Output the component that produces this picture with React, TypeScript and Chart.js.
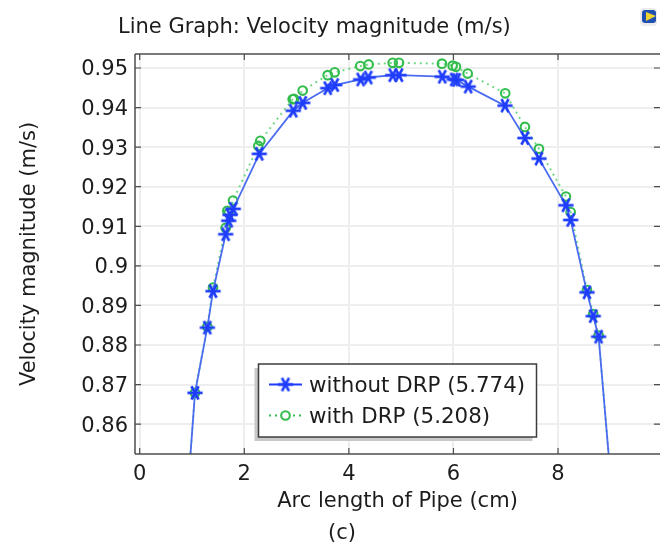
import React, { useEffect, useRef } from "react";
import { Chart, registerables } from "chart.js";

Chart.register(...registerables);

const titleText = "Line Graph: Velocity magnitude (m/s)";
const captionText = "(c)";
const xTitle = "Arc length of Pipe (cm)";
const yTitle = "Velocity magnitude (m/s)";
const xTicks = [0, 2, 4, 6, 8];
const yTicks = [0.86, 0.87, 0.88, 0.89, 0.9, 0.91, 0.92, 0.93, 0.94, 0.95];

const labelWithout = "without DRP (5.774)";
const xWithout = [0.93, 1.057, 1.293, 1.402, 1.644, 1.702, 1.727, 1.79, 2.287, 2.937, 3.117, 3.595, 3.729, 4.226, 4.371, 4.838, 4.958, 5.786, 6.015, 6.061, 6.283, 6.985, 7.367, 7.635, 8.151, 8.241, 8.553, 8.673, 8.776, 9.015];
const yWithout = [0.845, 0.8679, 0.8844, 0.8936, 0.908, 0.9114, 0.9129, 0.9144, 0.9283, 0.9392, 0.9412, 0.9449, 0.9457, 0.9471, 0.9476, 0.9482, 0.9482, 0.9478, 0.9471, 0.947, 0.9453, 0.9405, 0.9323, 0.9271, 0.9153, 0.9116, 0.8933, 0.8873, 0.8821, 0.845];

const labelWith = "with DRP (5.208)";
const xWith = [0.93, 1.057, 1.293, 1.402, 1.644, 1.675, 1.702, 1.784, 2.268, 2.306, 2.925, 2.95, 3.117, 3.595, 3.729, 4.218, 4.378, 4.838, 4.958, 5.78, 5.985, 6.048, 6.272, 6.99, 7.367, 7.635, 8.151, 8.241, 8.553, 8.673, 8.776, 9.015];
const yWith = [0.845, 0.8679, 0.8846, 0.8945, 0.9096, 0.9139, 0.9134, 0.9165, 0.9303, 0.9316, 0.9421, 0.9422, 0.9443, 0.9482, 0.9489, 0.9505, 0.9509, 0.9513, 0.9513, 0.9511, 0.9506, 0.9503, 0.9486, 0.9436, 0.9351, 0.9296, 0.9175, 0.9136, 0.8939, 0.8878, 0.8824, 0.845];

const FONT = '"DejaVu Sans"';
const FONT_SIZE = 21;
const BLUE = "#1f3dfb";
const BLUE_LINE = "#4a6cf0";
const GREEN = "#33bd4c";
const GREEN_LINE = "#74d987";
const TEXT = "#1c1c1c";
const FRAME = "#4d4d4d";

function asterisk(): HTMLCanvasElement {
  const c = document.createElement("canvas");
  c.width = 18;
  c.height = 18;
  const g = c.getContext("2d")!;
  g.strokeStyle = BLUE;
  g.lineWidth = 2.7;
  const r = 7.6;
  for (const deg of [0, 62, 118]) {
    const a = (deg * Math.PI) / 180;
    g.beginPath();
    g.moveTo(9 - r * Math.cos(a), 9 - r * Math.sin(a));
    g.lineTo(9 + r * Math.cos(a), 9 + r * Math.sin(a));
    g.stroke();
  }
  return c;
}

const decor = {
  id: "decor",
  afterDraw(chart: any) {
    const { ctx, chartArea: a, scales } = chart;
    ctx.save();
    ctx.strokeStyle = FRAME;
    ctx.lineWidth = 1.5;
    ctx.beginPath();
    ctx.moveTo(a.left, a.top);
    ctx.lineTo(a.right, a.top);
    ctx.moveTo(a.left, a.top);
    ctx.lineTo(a.left, a.bottom);
    ctx.moveTo(a.left, a.bottom);
    ctx.lineTo(a.right, a.bottom);
    ctx.stroke();
    ctx.lineWidth = 1.2;
    ctx.beginPath();
    for (const v of xTicks) {
      const x = scales.x.getPixelForValue(v);
      ctx.moveTo(x, a.top);
      ctx.lineTo(x, a.top + 6);
      ctx.moveTo(x, a.bottom);
      ctx.lineTo(x, a.bottom - 6);
    }
    for (const v of yTicks) {
      const y = scales.y.getPixelForValue(v);
      ctx.moveTo(a.left, y);
      ctx.lineTo(a.left + 6, y);
      ctx.moveTo(a.right, y);
      ctx.lineTo(a.right - 6, y);
    }
    ctx.stroke();

    ctx.fillStyle = TEXT;
    ctx.textBaseline = "alphabetic";
    ctx.textAlign = "left";
    ctx.font = `${FONT_SIZE}px ${FONT}`;
    ctx.fillText(titleText, 118, 33);
    ctx.textAlign = "center";
    ctx.fillText(captionText, 342, 539);

    const lx = 258.5, ly = 364, lw = 278, lh = 73;
    ctx.fillStyle = "#c8c8c8";
    ctx.fillRect(lx - 4, ly + 4, lw, lh);
    ctx.fillStyle = "#ffffff";
    ctx.fillRect(lx, ly, lw, lh);
    ctx.strokeStyle = "#3c3c3c";
    ctx.lineWidth = 1.5;
    ctx.strokeRect(lx, ly, lw, lh);
    const rows = [384.5, 415.5];
    chart.data.datasets.forEach((d: any, i: number) => {
      const y = rows[i];
      ctx.strokeStyle = i === 0 ? BLUE : GREEN;
      ctx.lineWidth = d.borderWidth;
      ctx.setLineDash(d.borderDash || []);
      ctx.beginPath();
      ctx.moveTo(269, y);
      ctx.lineTo(302, y);
      ctx.stroke();
      ctx.setLineDash([]);
      if (i === 0) {
        ctx.drawImage(d.pointStyle, 276.5, y - 9);
      } else {
        ctx.strokeStyle = d.pointBorderColor;
        ctx.lineWidth = d.pointBorderWidth;
        ctx.beginPath();
        ctx.arc(285.5, y, d.pointRadius, 0, Math.PI * 2);
        ctx.fillStyle = "#fff";
        ctx.fill();
        ctx.stroke();
      }
      ctx.fillStyle = TEXT;
      ctx.textAlign = "left";
      ctx.textBaseline = "alphabetic";
      ctx.font = `21.4px ${FONT}`;
      ctx.fillText(d.label, 309, y + 7);
    });

    ctx.fillStyle = "#ececec";
    ctx.beginPath();
    ctx.roundRect(640, 8, 17, 18, 4);
    ctx.fill();
    ctx.fillStyle = "#1f4fb0";
    ctx.beginPath();
    ctx.roundRect(642, 10, 14, 13, 3);
    ctx.fill();
    ctx.fillStyle = "#f2d430";
    ctx.beginPath();
    ctx.moveTo(646, 12);
    ctx.lineTo(656, 16);
    ctx.lineTo(646, 21);
    ctx.closePath();
    ctx.fill();
    ctx.restore();
  },
};

export default function App() {
  const ref = useRef<HTMLCanvasElement>(null);
  useEffect(() => {
    document.body.style.margin = "0";
    const star = asterisk();
    const chart = new Chart(ref.current!, {
      type: "line",
      data: {
        datasets: [
          {
            label: labelWithout,
            data: xWithout.map((x, i) => ({ x, y: yWithout[i] })),
            borderColor: BLUE_LINE,
            borderWidth: 1.8,
            pointStyle: star as any,
            pointRadius: 8,
            tension: 0,
          },
          {
            label: labelWith,
            data: xWith.map((x, i) => ({ x, y: yWith[i] })),
            borderColor: GREEN_LINE,
            borderWidth: 2,
            borderDash: [2, 4],
            pointStyle: "circle",
            pointRadius: 4.3,
            pointBorderColor: GREEN,
            pointBorderWidth: 2.1,
            pointBackgroundColor: "rgba(255,255,255,0)",
            tension: 0,
          },
        ] as any,
      },
      plugins: [decor, {
        id: "bg",
        beforeDraw(c: any) {
          c.ctx.save();
          c.ctx.fillStyle = "#fff";
          c.ctx.fillRect(0, 0, c.width, c.height);
          c.ctx.restore();
        },
      }],
      options: {
        animation: false,
        responsive: false,
        layout: { autoPadding: false, padding: { top: 54, left: 17, right: 0, bottom: 35 } },
        plugins: { legend: { display: false }, tooltip: { enabled: false } },
        scales: {
          x: {
            type: "linear",
            min: -0.09,
            max: 9.95,
            afterBuildTicks: (s: any) => { s.ticks = xTicks.map((value) => ({ value })); },
            afterFit: (s: any) => { s.height = 60; },
            grid: { color: "#eeeeee", lineWidth: 2, drawTicks: false },
            border: { display: false },
            ticks: { font: { family: FONT, size: FONT_SIZE }, color: TEXT, padding: 8, maxRotation: 0, autoSkip: false },
            title: { display: true, text: xTitle, color: TEXT, font: { family: FONT, size: FONT_SIZE }, padding: { top: 0, bottom: 0 } },
          },
          y: {
            min: 0.85245,
            max: 0.95354,
            afterBuildTicks: (s: any) => { s.ticks = yTicks.map((value) => ({ value })); },
            afterFit: (s: any) => { s.width = 118; },
            grid: { color: "#eeeeee", lineWidth: 2, drawTicks: false },
            border: { display: false },
            ticks: {
              font: { family: FONT, size: FONT_SIZE, lineHeight: "4px" },
              color: TEXT,
              padding: 7,
              autoSkip: false,
              callback: (v: any) => ["", String(Number(Number(v).toFixed(2)))],
            },
            title: { display: true, text: yTitle, color: TEXT, font: { family: FONT, size: FONT_SIZE }, padding: { top: 0, bottom: 0 } },
          },
        },
      } as any,
    });
    return () => chart.destroy();
  }, []);
  return (
    <div style={{ position: "absolute", left: 0, top: 0, width: 660, height: 549 }}>
      <canvas ref={ref} width={660} height={549} style={{ display: "block" }} />
    </div>
  );
}
